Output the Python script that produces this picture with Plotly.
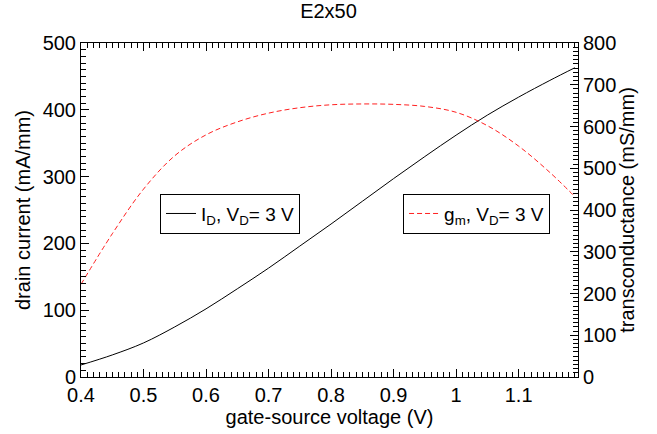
import plotly.graph_objects as go

vgs = [0.40, 0.45, 0.50, 0.55, 0.60, 0.65, 0.70, 0.75, 0.80, 0.85, 0.90, 0.95, 1.00, 1.05, 1.10, 1.15, 1.19]
id_ma = [18, 33, 51, 75, 102, 132, 163, 196, 229, 263, 297, 330, 362, 392, 419, 444, 463]
gm_ms = [222, 343, 450, 530, 580, 611, 632, 645, 652, 654, 653, 648, 634, 602, 553, 490, 432]

FONT = "Liberation Sans, Arial, sans-serif"

fig = go.Figure()
fig.add_trace(go.Scatter(x=vgs, y=id_ma, mode="lines", line=dict(color="black", width=1, shape="spline"),
                         name="I<sub>D</sub>, V<sub>D</sub>= 3 V", legend="legend", showlegend=True))
fig.add_trace(go.Scatter(x=vgs, y=gm_ms, mode="lines", yaxis="y2",
                         line=dict(color="#ff2020", width=1, dash="5px,3px", shape="spline"),
                         name="g<sub>m</sub>, V<sub>D</sub>= 3 V", legend="legend2", showlegend=True))

axis_common = dict(showgrid=False, zeroline=False, showline=True, linecolor="black", linewidth=1,
                   ticks="inside", tickcolor="black", ticklen=8, tickwidth=1,
                   tickfont=dict(family=FONT, size=20, color="black"),
                   title_font=dict(family=FONT, size=20, color="black"))

fig.update_layout(
    width=657, height=434,
    showlegend=True,
    margin=dict(l=81, r=79, t=43, b=54),
    paper_bgcolor="white", plot_bgcolor="white",
    title=dict(text="E2x50", x=0.5, xanchor="center", y=0.99, yanchor="top",
               font=dict(family=FONT, size=20, color="black")),
    xaxis=dict(range=[0.4, 1.195], dtick=0.1, tick0=0.4, mirror="ticks",
               title=dict(text="gate-source voltage (V)", standoff=2),
               minor=dict(dtick=0.01, ticks="inside", ticklen=5, tickcolor="black"),
               **axis_common),
    yaxis=dict(range=[0, 500], dtick=100,
               title=dict(text="drain current (mA/mm)", standoff=6),
               minor=dict(dtick=10, ticks="inside", ticklen=5, tickcolor="black"),
               **axis_common),
    yaxis2=dict(range=[0, 800], dtick=100, overlaying="y", side="right",
                title=dict(text="transconductance (mS/mm)", standoff=4),
                minor=dict(dtick=10, ticks="inside", ticklen=5, tickcolor="black"),
                **axis_common),
    legend=dict(x=0.159, y=0.549, xanchor="left", yanchor="top", bgcolor="white",
                bordercolor="black", borderwidth=1, tracegroupgap=0,
                font=dict(family=FONT, size=19, color="black")),
    legend2=dict(x=0.648, y=0.549, xanchor="left", yanchor="top", bgcolor="white",
                 bordercolor="black", borderwidth=1, tracegroupgap=0,
                 font=dict(family=FONT, size=19, color="black")),
)

fig.write_html("out.html")
